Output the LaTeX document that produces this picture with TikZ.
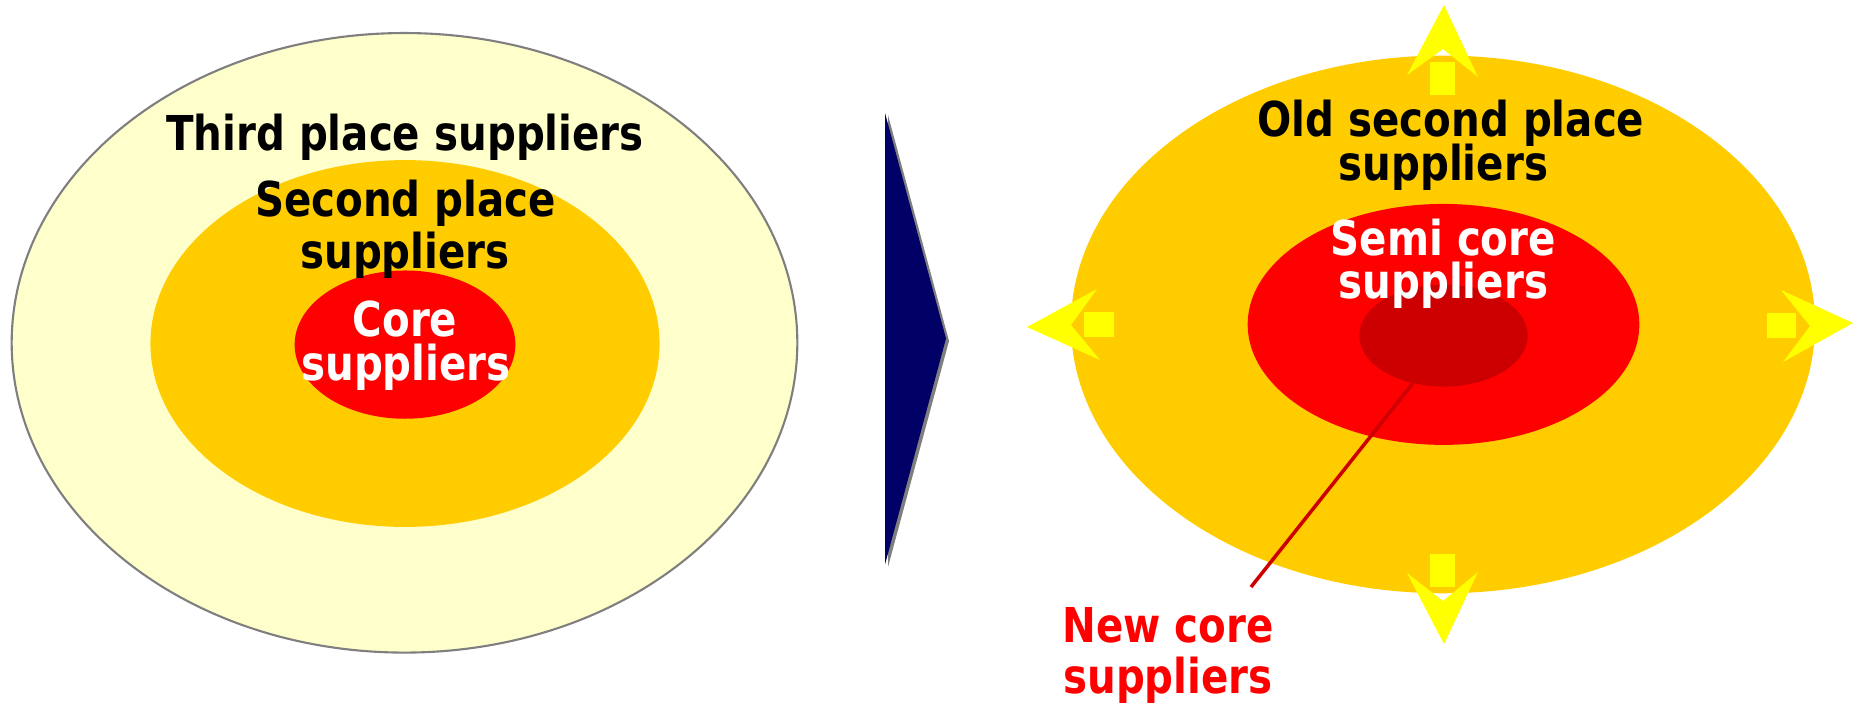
\documentclass[tikz,border=0pt]{standalone}
\usepackage{fontspec}
\setmainfont{DejaVu Sans}[FakeStretch=0.84]
\usetikzlibrary{shapes.geometric}
\definecolor{paleyellow}{HTML}{FFFFCC}
\definecolor{gold}{HTML}{FFCC00}
\definecolor{pured}{HTML}{FF0000}
\definecolor{darkred}{HTML}{CC0000}
\definecolor{brightyellow}{HTML}{FFFF00}
\definecolor{navy}{HTML}{000066}
\definecolor{outline}{HTML}{7F7F7F}
\tikzset{
  ell/.style={ellipse, inner sep=0pt, outer sep=0pt},
  lbl/.style={anchor=base, inner sep=0pt, font=\bfseries\fontsize{13.66}{15}\selectfont},
  blk/.style={lbl, text=black},
  wht/.style={lbl, text=white},
  rdt/.style={lbl, text=pured},
  yarrow/.style={fill=brightyellow, draw=none},
}
\begin{document}
\begin{tikzpicture}[x=0.01cm, y=-0.01cm]
\useasboundingbox (0,0) rectangle (1860,705);
% left diagram
\node[ell, fill=paleyellow, draw=outline, line width=0.6pt, minimum width=7.852cm, minimum height=6.192cm] (third) at (404.5,342.8) {};
\node[ell, fill=gold, minimum width=5.088cm, minimum height=3.666cm] (second) at (405,343.5) {};
\node[ell, fill=pured, minimum width=2.206cm, minimum height=1.482cm] (core) at (405,344.6) {};
\node[blk] (t1) at (405,150) {Third place suppliers};
\node[blk] (s1) at (405.5,216.7) {Second place};
\node[blk] (s2) at (405,268.3) {suppliers};
\node[wht] (c1) at (405,336.7) {Core};
\node[wht] (c2) at (406,380) {suppliers};
% navy arrow
\fill[outline] (888,115) -- (949,341) -- (888,567) -- cycle;
\fill[navy] (885,113) node (ta) {} -- (946,338.5) node (tb) {} -- (885,564.5) node (tc) {} -- cycle;
% right diagram
\node[ell, fill=gold, minimum width=7.436cm, minimum height=5.374cm] (old) at (1443,324.4) {};
\fill[yarrow] (1444,5) -- (1478,77) -- (1443,49) -- (1407,75) -- cycle;
\fill[yarrow] (1430,62) rectangle (1455,95);
\fill[yarrow] (1444,644) -- (1478,572) -- (1443,601) -- (1407,573) -- cycle;
\fill[yarrow] (1430,554) rectangle (1455,587);
\fill[yarrow] (1027,327) -- (1097,289) -- (1071,325) -- (1100,360) -- cycle;
\fill[yarrow] (1084,312) rectangle (1114,337);
\fill[yarrow] (1853,323) -- (1781,290) -- (1810,326) -- (1783,362) -- cycle;
\fill[yarrow] (1767,313) rectangle (1796,338);
\node[ell, fill=pured, minimum width=3.914cm, minimum height=2.408cm] (semi) at (1443.5,324.4) {};
\node[ell, fill=darkred, minimum width=1.684cm, minimum height=1.02cm] (newcore) at (1443.5,335.6) {};
\node[blk] (o1) at (1450.8,136.7) {Old second place};
\node[blk] (o2) at (1443.3,180.7) {suppliers};
\node[wht] (m1) at (1443.3,255) {Semi core};
\node[wht] (m2) at (1443.3,298) {suppliers};
\coordinate (lineA) at (1413,383);
\coordinate (lineB) at (1251,587);
\draw[darkred, line width=1pt] (lineA) -- (lineB);
\node[rdt] (n1) at (1168,642) {New core};
\node[rdt] (n2) at (1168,693) {suppliers};
\end{tikzpicture}
\end{document}
